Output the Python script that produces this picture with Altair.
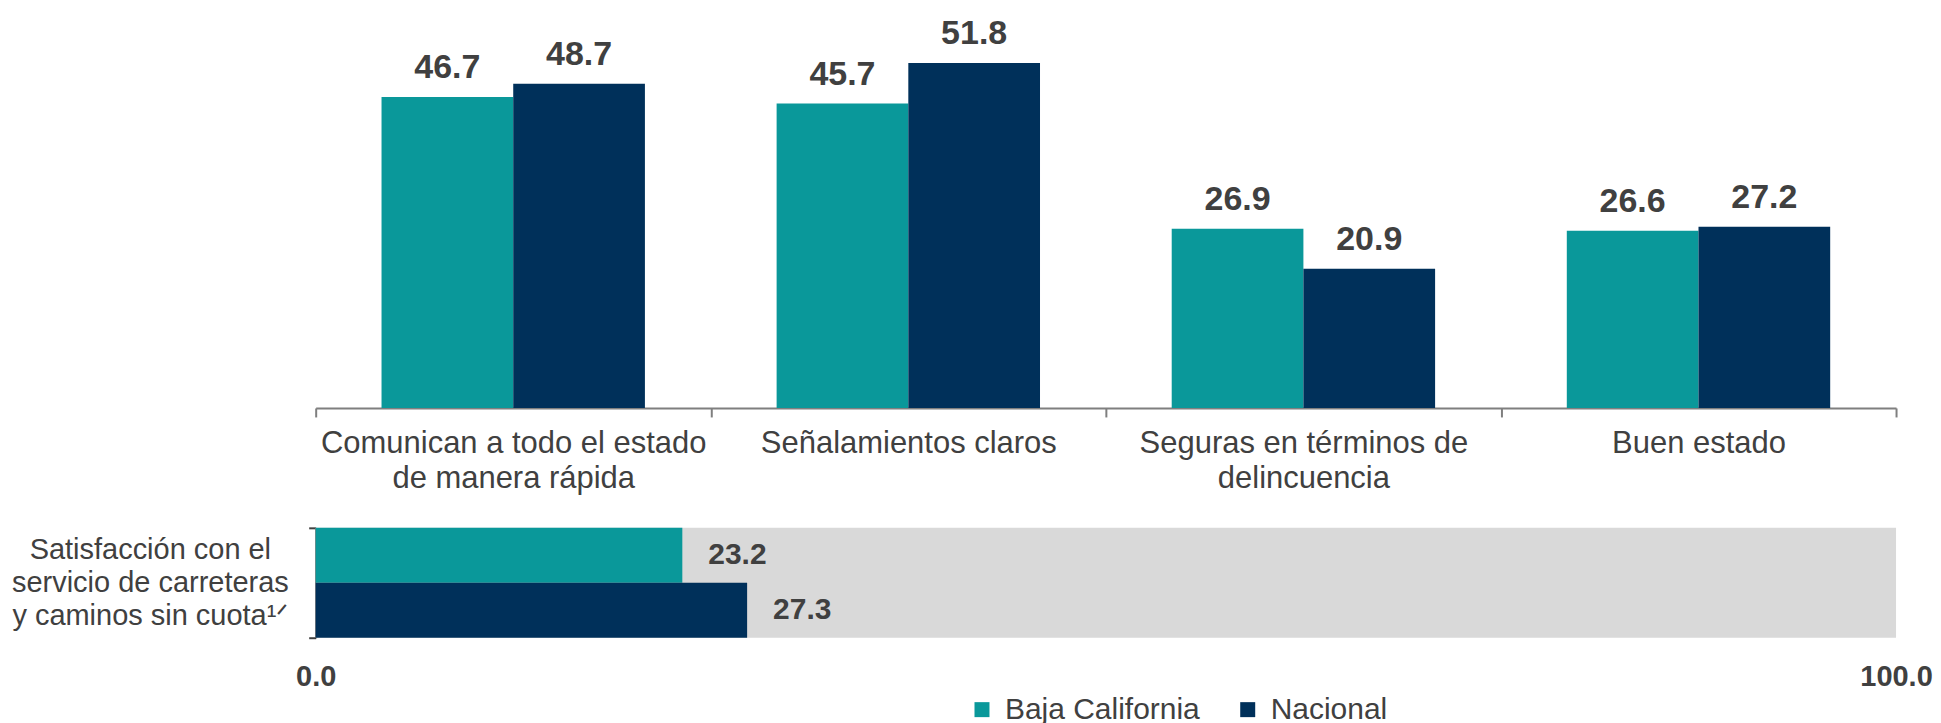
import altair as alt
import pandas as pd

# ---- data ----
categories = [
    "Comunican a todo el estado\nde manera rápida",
    "Señalamientos claros",
    "Seguras en términos de\ndelincuencia",
    "Buen estado",
]
series = ["Baja California", "Nacional"]
baja = [46.7, 45.7, 26.9, 26.6]
nacional = [48.7, 51.8, 20.9, 27.2]

sat_category = ["Satisfacción con el\nservicio de carreteras\ny caminos sin cuota¹ᐟ"]
sat_baja = [23.2]
sat_nacional = [27.3]
sat_total = [100.0]
x_ticks = [0.0, 100.0]

colors = ["#0a989a", "#00305a"]
TXT = "#404040"
FONT = "Liberation Sans"

rows = []
for c, b, n in zip(categories, baja, nacional):
    rows.append({"categoria": c, "serie": series[0], "valor": b})
    rows.append({"categoria": c, "serie": series[1], "valor": n})
df_top = pd.DataFrame(rows)

rows_b = []
for c, b, n in zip(sat_category, sat_baja, sat_nacional):
    rows_b.append({"categoria": c, "serie": series[0], "valor": b})
    rows_b.append({"categoria": c, "serie": series[1], "valor": n})
df_bot = pd.DataFrame(rows_b)
df_bg = pd.DataFrame({"categoria": sat_category, "valor": sat_total})

color_scale = alt.Scale(domain=series, range=colors)
label_expr = "isValid(datum.value) ? split(datum.value, '\\n') : ''"

# ---- top grouped bars ----
x_top = alt.X(
    "categoria:N",
    sort=categories,
    scale=alt.Scale(paddingInner=0, paddingOuter=0),
    axis=alt.Axis(
        title=None, labelAngle=0, labelExpr=label_expr,
        labelFontSize=31, labelColor=TXT, labelLineHeight=35, labelPadding=12,
        labelLimit=0, labelFont=FONT, tickBand="extent", tickSize=9,
        tickColor="#7f7f7f", domainColor="#7f7f7f", domainWidth=2, tickWidth=2,
    ),
)
xoff = alt.XOffset("serie:N", sort=series, scale=alt.Scale(paddingInner=0, paddingOuter=0.5))
y_top = alt.Y("valor:Q", scale=alt.Scale(domain=[0, 60], nice=False), axis=None)

top_base = alt.Chart(df_top).encode(x=x_top, xOffset=xoff, y=y_top)
top_bars = top_base.mark_bar().encode(
    color=alt.Color("serie:N", scale=color_scale, legend=None)
)
top_text = top_base.mark_text(
    fontSize=34, fontWeight="bold", color=TXT, baseline="alphabetic", dy=-19, font=FONT
).encode(text=alt.Text("valor:Q", format=".1f"))
top = alt.layer(top_bars, top_text).properties(width=1582, height=400)

# ---- bottom horizontal bars ----
x_bot = alt.X(
    "valor:Q",
    scale=alt.Scale(domain=[0, 100], nice=False),
    axis=alt.Axis(
        title=None, values=x_ticks, format=".1f", labelFontWeight="bold",
        labelFontSize=29, labelColor=TXT, labelFont=FONT, labelFlush=False,
        domain=False, ticks=False, grid=False, labelPadding=25,
    ),
)
y_bot = alt.Y(
    "categoria:N",
    scale=alt.Scale(paddingInner=0, paddingOuter=0),
    axis=alt.Axis(
        title=None, labelExpr=label_expr, labelAlign="center",
        labelBaseline="middle", labelPadding=159, labelOffset=-33, labelFontSize=29,
        labelLineHeight=33, labelColor=TXT, labelFont=FONT, labelLimit=0,
        tickBand="extent", tickSize=7, tickColor="#404040", domainColor="#404040",
        domainWidth=2, tickWidth=2,
    ),
)
yoff = alt.YOffset("serie:N", sort=series, scale=alt.Scale(paddingInner=0, paddingOuter=0))

bg = alt.Chart(df_bg).mark_bar(color="#d9d9d9").encode(x=x_bot, y=y_bot)
bot_base = alt.Chart(df_bot).encode(x=x_bot, y=y_bot, yOffset=yoff)
bot_bars = bot_base.mark_bar().encode(
    color=alt.Color(
        "serie:N", scale=color_scale,
        legend=alt.Legend(
            orient="none", legendX=652, legendY=167, direction="horizontal",
            title=None, labelFontSize=30, labelColor=TXT, labelFont=FONT,
            symbolType="square", symbolSize=225, symbolStrokeWidth=0,
            columnPadding=32, labelOffset=8, padding=0, labelLimit=0,
        ),
    )
)
bot_text = bot_base.mark_text(
    fontSize=30, fontWeight="bold", color=TXT, align="left", baseline="middle",
    dx=26, font=FONT
).encode(text=alt.Text("valor:Q", format=".1f"))
bottom = alt.layer(bg, bot_bars, bot_text).properties(width=1582, height=110)

chart = (
    alt.vconcat(top, bottom, spacing=20)
    .resolve_scale(color="independent", x="independent", y="independent")
    .properties(padding={"left": 3, "top": 0, "right": 0, "bottom": 0})
    .configure(font=FONT)
    .configure_view(strokeWidth=0, stroke="transparent")
)

chart.save("out.html", embed_options={"renderer": "svg", "actions": False})
